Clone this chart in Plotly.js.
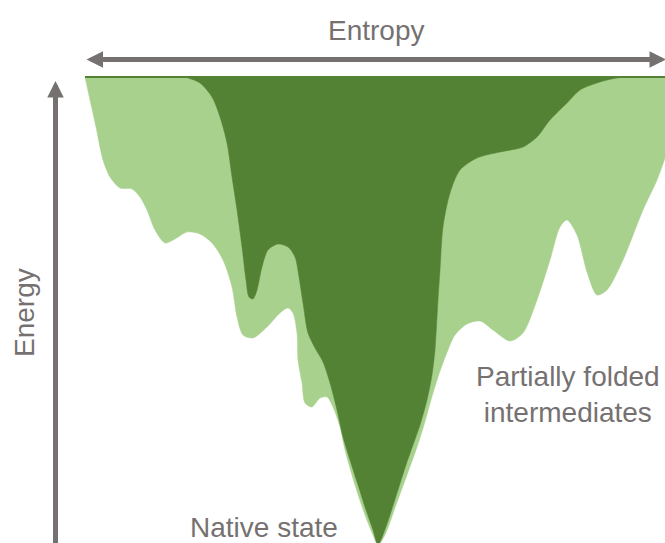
<!DOCTYPE html>
<html>
<head>
<meta charset="utf-8">
<script src="https://cdn.plot.ly/plotly-3.0.1.min.js"></script>
<style>html,body{margin:0;padding:0;background:#fff;}#chart{width:665px;height:543px;}</style>
</head>
<body>
<div id="chart"></div>
<script>
// Outline of the whole funnel (light green: partially folded states), pixel-like units, y grows downward
const lightX = [85, 90, 96, 103, 110, 120, 132, 140, 147, 155, 165, 175, 187, 200, 212, 223, 232, 237, 243, 253, 267, 280, 288, 293, 297, 298, 302, 305, 312, 320, 327, 333, 340, 345, 355, 365, 373, 378,
  385, 396, 407, 416, 424, 431, 438, 446, 455, 467, 480, 493, 510, 523, 537, 550, 560, 567, 577, 587, 597, 607, 623, 643, 657, 666, 670, 670];
const lightY = [77, 100, 127, 160, 177, 188, 189, 197, 210, 230, 243, 239, 232, 234, 243, 260, 287, 317, 335, 338, 327, 313, 308, 313, 333, 360, 383, 403, 407, 398, 397, 407, 427, 450, 485, 515, 535, 545,
  535, 505, 475, 450, 425, 400, 377, 355, 335, 324, 321, 330, 341, 333, 300, 260, 227, 220, 235, 272, 295, 290, 260, 210, 180, 155, 140, 77];
// Outline of the native-state funnel (dark green)
const darkX = [185, 200, 212, 220, 227, 232, 237, 242, 246, 249, 253, 257, 262, 268, 278, 288, 295, 299, 303, 308, 315, 323, 330, 337, 343, 350, 358, 366, 373, 378,
  383, 390, 398, 406, 413, 420, 427, 432, 435, 438, 440, 443, 450, 460, 477, 500, 523, 537, 550, 567, 580, 600, 617, 640, 670];
const darkY = [77, 83, 97, 117, 143, 177, 210, 247, 280, 297, 299, 290, 267, 250, 244, 247, 257, 277, 303, 333, 348, 362, 383, 410, 437, 460, 485, 510, 530, 545,
  535, 515, 490, 465, 445, 425, 400, 375, 350, 300, 270, 227, 193, 170, 158, 152, 147, 137, 120, 103, 90, 82, 78, 77, 77];
// Labels
const axisLabels = {x: 'Entropy', y: 'Energy'};
const stateLabels = ['Partially folded<br>intermediates', 'Native state'];

const light = '#A9D18E', dark = '#548235', grey = '#767171';
const font = {family: 'Liberation Sans, Arial, sans-serif', size: 28, color: grey};

const traces = [
  {x: lightX, y: lightY, type: 'scatter', mode: 'lines', fill: 'toself', fillcolor: light,
   line: {color: light, width: 0.5, shape: 'spline', smoothing: 0.8}, hoverinfo: 'skip'},
  {x: darkX, y: darkY, type: 'scatter', mode: 'lines', fill: 'toself', fillcolor: dark,
   line: {color: dark, width: 0.5, shape: 'spline', smoothing: 0.8}, hoverinfo: 'skip'},
  {x: [lightX[0], lightX[lightX.length - 1]], y: [lightY[0], lightY[lightY.length - 1]], type: 'scatter', mode: 'lines',
   line: {color: dark, width: 2}, hoverinfo: 'skip'}
];

const layout = {
  width: 665, height: 543,
  margin: {l: 0, r: 0, t: 0, b: 0},
  paper_bgcolor: '#ffffff', plot_bgcolor: '#ffffff',
  showlegend: false,
  xaxis: {range: [0, 665], visible: false, fixedrange: true},
  yaxis: {range: [543, 0], visible: false, fixedrange: true},
  annotations: [
    // double-headed entropy arrow
    {x: 666, y: 59.5, ax: 85, ay: 59.5, xref: 'x', yref: 'y', axref: 'x', ayref: 'y', text: '',
     showarrow: true, arrowhead: 2, startarrowhead: 2, arrowside: 'end+start', arrowsize: 0.66, startarrowsize: 0.66,
     arrowwidth: 5, arrowcolor: grey},
    // energy arrow
    {x: 55.5, y: 81, ax: 55.5, ay: 560, xref: 'x', yref: 'y', axref: 'x', ayref: 'y', text: '',
     showarrow: true, arrowhead: 2, arrowsize: 0.66, arrowwidth: 5, arrowcolor: grey},
    {x: 376, y: 30, xref: 'x', yref: 'y', text: axisLabels.x, showarrow: false, font: font, xanchor: 'center', yanchor: 'middle'},
    {x: 24, y: 313, xref: 'x', yref: 'y', text: axisLabels.y, showarrow: false, font: font, textangle: -90, xanchor: 'center', yanchor: 'middle'},
    {x: 568, y: 394, xref: 'x', yref: 'y', text: stateLabels[0], showarrow: false, font: font, align: 'center', xanchor: 'center', yanchor: 'middle'},
    {x: 264, y: 527, xref: 'x', yref: 'y', text: stateLabels[1], showarrow: false, font: font, xanchor: 'center', yanchor: 'middle'}
  ]
};

Plotly.newPlot('chart', traces, layout, {staticPlot: true, displayModeBar: false});
</script>
</body>
</html>
